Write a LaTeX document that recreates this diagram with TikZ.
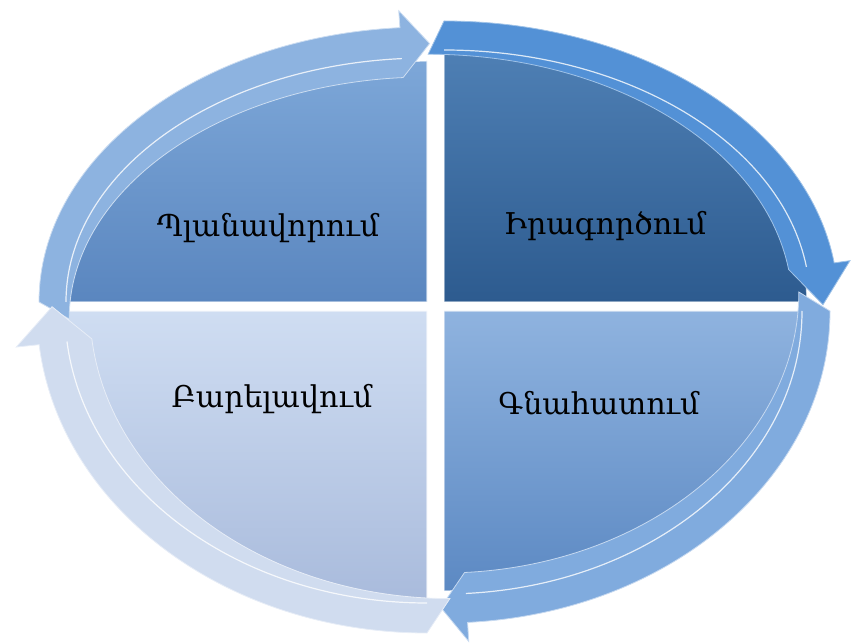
\documentclass[tikz,border=0pt]{standalone}
\usepackage{fontspec}
\newfontfamily\armfont{DejaVu Serif}
\definecolor{tlTop}{HTML}{7DA7D8}
\definecolor{tlBot}{HTML}{5A86BF}
\definecolor{tlBand}{HTML}{8DB3E0}
\definecolor{trTop}{HTML}{4E7FB4}
\definecolor{trBot}{HTML}{2D5B8F}
\definecolor{trBand}{HTML}{5391D6}
\definecolor{brTop}{HTML}{8FB3DF}
\definecolor{brBot}{HTML}{5C89C3}
\definecolor{brBand}{HTML}{80ABDE}
\definecolor{blTop}{HTML}{CFDDF2}
\definecolor{blBot}{HTML}{A9BBDC}
\definecolor{blBand}{HTML}{D0DCEF}
\tikzset{
  lbl/.style={font=\armfont\fontsize{30}{33}\selectfont, text=black, anchor=base, inner sep=0pt},
  diskedge/.style={draw=white, draw opacity=0.7, line width=1.4pt},
}
\def\hext{16}
% #1 style, #2 center, #3 rxo, #4 ryo, #5 rxi, #6 ryi, #7 start angle, #8 head base angle, #9 tip angle
\newcommand\bandarrow[9]{%
  \pgfmathsetmacro\rxm{(#3+#5)/2}%
  \pgfmathsetmacro\rym{(#4+#6)/2}%
  \pgfmathsetmacro\rxh{#3+\hext}%
  \pgfmathsetmacro\ryh{#4+\hext}%
  \pgfmathsetmacro\rxl{#5-\hext}%
  \pgfmathsetmacro\ryl{#6-\hext}%
  \begin{scope}[shift={#2}]
    \path[#1] (#7:#3pt and #4pt)
      arc[start angle=#7, end angle=#8, x radius=#3pt, y radius=#4pt]
      -- (#8:\rxh pt and \ryh pt) -- (#9:\rxm pt and \rym pt) -- (#8:\rxl pt and \ryl pt)
      arc[start angle=#8, end angle=#7, x radius=#5pt, y radius=#6pt] -- cycle;
    \draw[white, opacity=0.8, line width=1.2pt] (#7:#5pt+2pt and #6pt+2pt)
      arc[start angle=#7, end angle=#8, x radius=#5pt+2pt, y radius=#6pt+2pt];
  \end{scope}%
}
\begin{document}
\begin{tikzpicture}[x=1pt, y=1pt]
\useasboundingbox (0,0) rectangle (854,643);
% quadrant disks
\path[top color=tlTop, bottom color=tlBot, diskedge]
  (427,341) -- ++(-358,0) arc[start angle=180, end angle=90, x radius=358pt, y radius=241pt] -- cycle;
\path[top color=trTop, bottom color=trBot, diskedge]
  (444,341) -- ++(0,249) arc[start angle=90, end angle=0, x radius=363pt, y radius=249pt] -- cycle;
\path[top color=brTop, bottom color=brBot, diskedge]
  (444,332) -- ++(355,0) arc[start angle=0, end angle=-90, x radius=355pt, y radius=280pt] -- cycle;
\path[top color=blTop, bottom color=blBot, diskedge]
  (427,332) -- ++(0,-289) arc[start angle=-90, end angle=-180, x radius=359pt, y radius=289pt] -- cycle;
% curved arrows
\def\hext{17}
\bandarrow{fill=tlBand, draw=white!55!tlBand, line width=0.8pt}{(427,341)}{388}{275}{359}{242}{180}{94}{89.6}
\def\hext{16}
\bandarrow{fill=trBand, draw=white!45!trBand, line width=0.8pt}{(444,341)}{394}{281}{364}{250}{90}{8}{-0.6}
\def\hext{19}
\bandarrow{fill=brBand, draw=white!55!brBand, line width=0.8pt}{(444,332)}{386}{312}{356}{281}{0}{-86.5}{-90.5}
\def\hext{23}
\bandarrow{fill=blBand, draw=white!50!blBand, line width=0.8pt}{(427,332)}{390}{322}{360}{290}{-90}{-174}{-180.8}
% labels
\node[lbl] (plan) at (268,406) {Պլանավորում};
\node[lbl] (irag) at (605,408) {Իրագործում};
\node[lbl] (barel) at (272,235) {Բարելավում};
\node[lbl] (gnah) at (599,228) {Գնահատում};
\end{tikzpicture}
\end{document}
